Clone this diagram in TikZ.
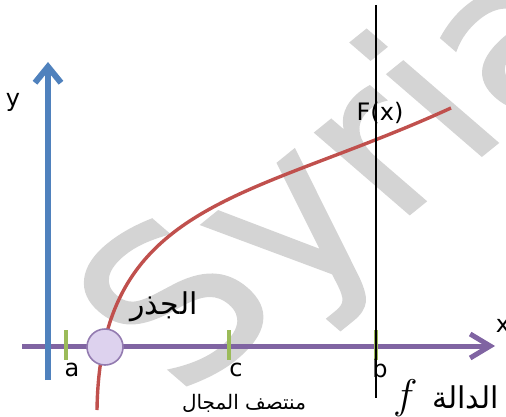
\documentclass[tikz,border=0pt]{standalone}
\usepackage{fontspec}
\setmainfont{DejaVu Sans}
\newfontfamily\arabicfont[Script=Arabic]{DejaVu Sans}
\newfontfamily\wmfont[FakeBold=1]{DejaVu Sans}
\TeXXeTstate=1
\usetikzlibrary{arrows.meta}
\definecolor{axblue}{HTML}{4F81BD}
\definecolor{axpurple}{HTML}{8064A2}
\definecolor{tickgreen}{HTML}{9BBB59}
\definecolor{curvered}{HTML}{C0504D}
\definecolor{rootfill}{HTML}{DDD2EE}
\definecolor{wmgray}{HTML}{D4D4D4}
\tikzset{
  yaxisline/.style={draw=axblue, line width=3pt, -{Straight Barb[length=8pt,width=13pt]}},
  xaxisline/.style={draw=axpurple, line width=2.5pt, -{Straight Barb[length=10pt,width=12pt]}},
  ticky/.style={draw=tickgreen, line width=2pt},
  fcurve/.style={draw=curvered, line width=1.7pt},
  vline/.style={draw=black, line width=0.7pt},
  lbl/.style={inner sep=0pt, font=\fontsize{12}{14}\selectfont},
  rootdot/.style={circle, draw=axpurple!85, line width=0.8pt, fill=rootfill, minimum size=18pt, inner sep=0pt},
}
\begin{document}
\begin{tikzpicture}[x=0.5pt,y=-0.5pt]
\useasboundingbox (0,0) rectangle (506,416);
\clip (0,0) rectangle (506,416);
% watermark
\node[rotate=39, xslant=-0.18, anchor=base west, inner sep=0pt, text=wmgray, font=\wmfont\fontsize{112}{112}\selectfont] (wm) at (180,400) {Syria};
% axes
\coordinate (xs) at (22,346);
\coordinate (xe) at (495,346);
\coordinate (ys) at (48,380);
\coordinate (ye) at (48,62);
\draw[xaxisline] (xs) -- (xe);
\draw[yaxisline] (ys) -- (ye);
% ticks
\coordinate (ta1) at (66,330); \coordinate (ta2) at (66,360);
\coordinate (tc1) at (229,330); \coordinate (tc2) at (229,360);
\coordinate (tb1) at (376,330); \coordinate (tb2) at (376,360);
\draw[ticky] (ta1) -- (ta2);
\draw[ticky] (tc1) -- (tc2);
\draw[ticky] (tb1) -- (tb2);
% curve
\coordinate (cs) at (97,410);
\coordinate (ce) at (451,108);
\draw[fcurve] (cs) .. controls (100,200) and (250,200) .. (ce);
% root
\node[rootdot] (root) at (105,347) {};
% vertical line
\coordinate (bt) at (376,5);
\coordinate (bb) at (376,398);
% labels
\node[lbl] (ylab) at (13,102) {y};
\node[lbl] (xlab) at (503,326) {x};
\node[lbl] (alab) at (72,370) {a};
\node[lbl] (clab) at (236,370) {c};
\node[lbl] (blab) at (380,369) {b};
\node[lbl] (Flab) at (380,113) {F(x)};
\draw[vline] (bt) -- (bb);
\node[inner sep=0pt, font=\arabicfont\fontsize{15}{17}\selectfont] (rootlab) at (164,307) {\beginR الجذر\endR};
\node[inner sep=0pt, font=\arabicfont\fontsize{10}{12}\selectfont] (midlab) at (244,403) {\beginR منتصف المجال\endR};
\node[inner sep=0pt, anchor=base, font=\arabicfont\fontsize{15}{17}\selectfont] (flab) at (446,408) {{\fontsize{21}{21}\selectfont$f$}\, \beginR الدالة\endR};
\end{tikzpicture}
\end{document}
